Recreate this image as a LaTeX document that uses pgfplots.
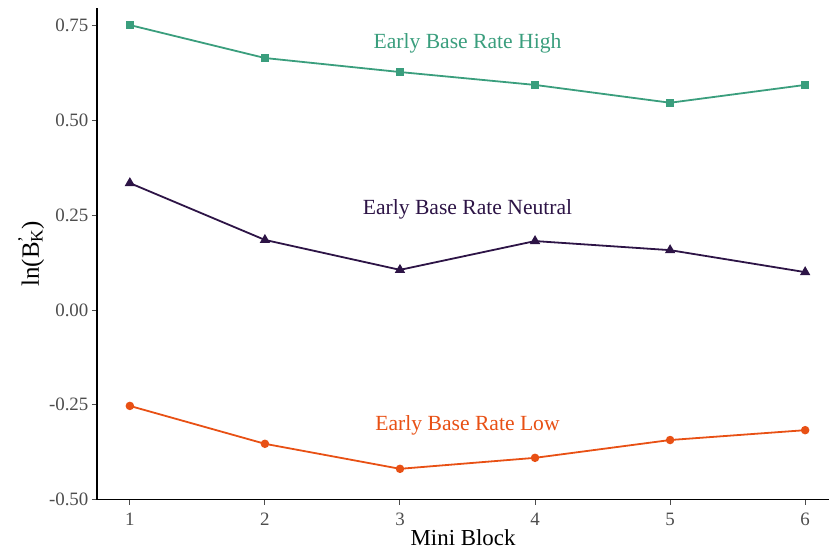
\documentclass[border=0pt]{standalone}
\usepackage{fontspec}
\setmainfont{Liberation Serif}
\usepackage{pgfplots}
\pgfplotsset{compat=1.18}
\definecolor{cHigh}{RGB}{58,158,125}
\definecolor{cNeu}{RGB}{45,20,70}
\definecolor{cLow}{RGB}{232,80,20}
\definecolor{tickgrey}{RGB}{77,77,77}
\begin{document}
\begin{tikzpicture}
\begin{axis}[
  scale only axis,
  width=733bp, height=492bp,
  xmin=0.756, xmax=6.178,
  ymin=-0.5, ymax=0.797,
  axis x line=bottom, axis y line=left,
  axis line style={-, line width=1.6bp, black},
  xtick={1,2,3,4,5,6},
  ytick={-0.5,-0.25,0,0.25,0.5,0.75},
  yticklabels={-0.50,-0.25,0.00,0.25,0.50,0.75},
  tick align=outside,
  major tick length=5bp,
  tick style={line width=1bp, tickgrey},
  tick label style={font=\fontsize{19}{22}\selectfont, text=tickgrey},
  xticklabel style={yshift=-5bp},
  /pgf/number format/assume math mode=true,
  xlabel={Mini Block},
  ylabel={ln(B\rlap{\textsuperscript{'}}\textsubscript{K})},
  label style={font=\fontsize{23}{26}\selectfont},
  xlabel style={yshift=3bp},
  ylabel style={font=\fontsize{25}{28}\selectfont, yshift=-2bp},
  clip=false,
]
\addplot[cHigh, line width=1.8bp, mark=square*, mark size=3.3bp, mark options={solid}] coordinates {
(1,0.752) (2,0.665) (3,0.628) (4,0.594) (5,0.547) (6,0.594)};
\addplot[cNeu, line width=1.8bp, mark=triangle*, mark size=4.2bp] coordinates {
(1,0.335) (2,0.185) (3,0.106) (4,0.182) (5,0.158) (6,0.100)};
\addplot[cLow, line width=1.8bp, mark=*, mark size=3.3bp] coordinates {
(1,-0.253) (2,-0.353) (3,-0.419) (4,-0.390) (5,-0.343) (6,-0.317)};
\node[text=cHigh, font=\fontsize{21.7}{24}\selectfont] at (axis cs:3.5,0.705) {Early Base Rate High};
\node[text=cNeu, font=\fontsize{21.7}{24}\selectfont] at (axis cs:3.5,0.265) {Early Base Rate Neutral};
\node[text=cLow, font=\fontsize{21.7}{24}\selectfont] at (axis cs:3.5,-0.304) {Early Base Rate Low};
\end{axis}
\useasboundingbox (-97bp,-55bp) rectangle (733bp,500bp);
\end{tikzpicture}
\end{document}
